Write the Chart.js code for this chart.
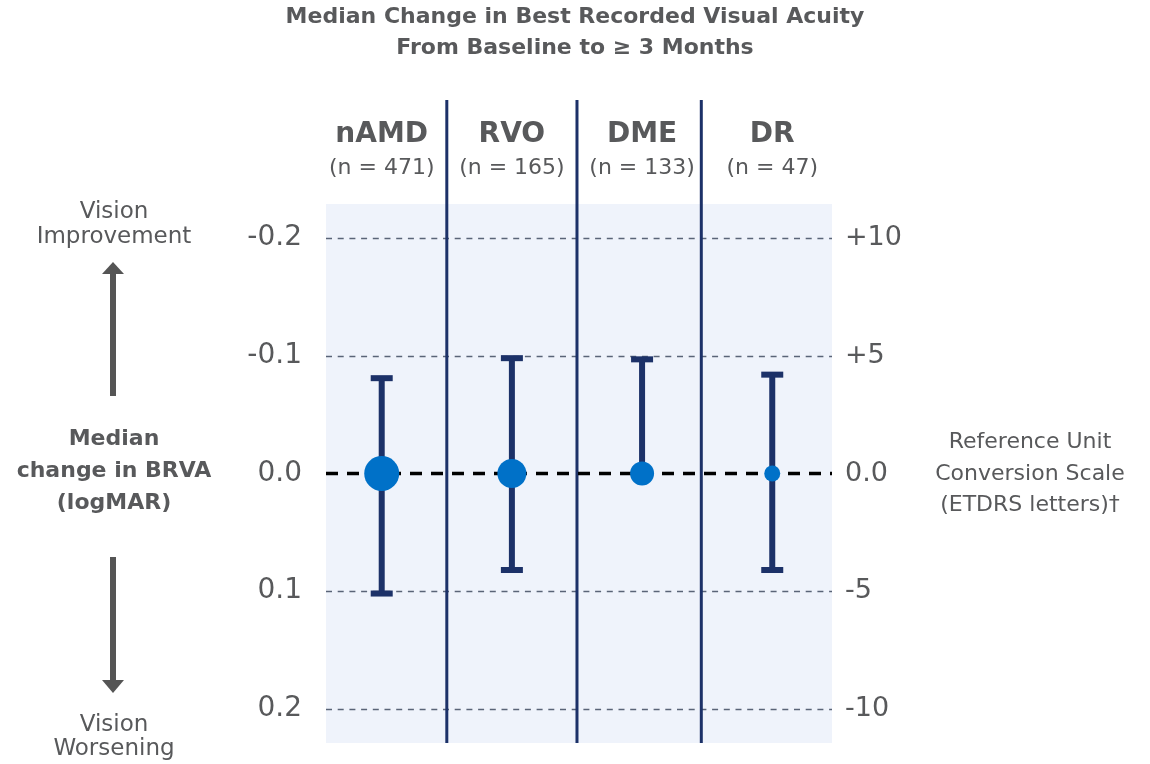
<!DOCTYPE html>
<html>
<head>
<meta charset="utf-8">
<script src="https://cdn.jsdelivr.net/npm/chart.js@4.4.1/dist/chart.umd.min.js"></script>
<style>
  html, body { margin: 0; padding: 0; background: #fff; }
</style>
</head>
<body>
<canvas id="chart" width="1150" height="764"></canvas>
<script>
// data
const categories = ["nAMD", "RVO", "DME", "DR"];
const sampleSizes = ["(n = 471)", "(n = 165)", "(n = 133)", "(n = 47)"];
const medians = [0, 0, 0, 0];
const upperBars = [-0.081, -0.098, -0.097, -0.084];
const lowerBars = [0.102, 0.082, 0, 0.082];
const logmarTicks = [-0.2, -0.1, 0, 0.1, 0.2];
const letterTicks = ["+10", "+5", "0.0", "-5", "-10"];

// styling
const pointSizes = [17.5, 14.5, 12, 8];
const FONT = "'DejaVu Sans', 'Open Sans', sans-serif";
const GREY = "#58595b";
const NAVY = "#1c3168";
const BLUE = "#0071c8";

const overlay = {
  id: "overlay",
  beforeDatasetsDraw(chart) {
    const { ctx, chartArea: a } = chart;
    const x = chart.scales.x, y = chart.scales.y;
    ctx.save();
    // panel
    ctx.fillStyle = "#eff3fb";
    ctx.fillRect(a.left, a.top, a.right - a.left, a.bottom - a.top);

    // dashed grid lines
    ctx.strokeStyle = "#5a6477";
    ctx.lineWidth = 1.6;
    ctx.setLineDash([6, 5.7]);
    logmarTicks.forEach(v => {
      if (v === 0) return;
      const py = Math.round(y.getPixelForValue(v)) + 0.5;
      ctx.beginPath();
      ctx.moveTo(a.left, py);
      ctx.lineTo(a.right, py);
      ctx.stroke();
    });
    ctx.setLineDash([]);

    // dividers between groups
    ctx.strokeStyle = NAVY;
    ctx.lineWidth = 3;
    [0.5, 1.5, 2.455].forEach(v => {
      const px = x.getPixelForValue(v);
      ctx.beginPath();
      ctx.moveTo(px, 100);
      ctx.lineTo(px, a.bottom);
      ctx.stroke();
    });

    // zero line
    const zy = y.getPixelForValue(0);
    ctx.strokeStyle = "#000";
    ctx.lineWidth = 3.5;
    ctx.setLineDash([12, 9]);
    ctx.beginPath();
    ctx.moveTo(a.left, zy);
    ctx.lineTo(a.right, zy);
    ctx.stroke();
    ctx.setLineDash([]);

    // error bars
    ctx.fillStyle = NAVY;
    categories.forEach((c, i) => {
      const px = x.getPixelForValue(i);
      const top = y.getPixelForValue(upperBars[i]);
      const bot = y.getPixelForValue(lowerBars[i]);
      ctx.fillRect(px - 3, top, 6, bot - top);
      if (upperBars[i] !== medians[i]) ctx.fillRect(px - 11, top - 3, 22, 6);
      if (lowerBars[i] !== medians[i]) ctx.fillRect(px - 11, bot - 3, 22, 6);
    });
    ctx.restore();
  },
  afterDraw(chart) {
    const { ctx } = chart;
    const x = chart.scales.x;
    ctx.save();
    ctx.fillStyle = GREY;
    ctx.textAlign = "center";
    ctx.textBaseline = "middle";

    // title
    ctx.font = "bold 22px " + FONT;
    ctx.fillText("Median Change in Best Recorded Visual Acuity", 575, 17);
    ctx.fillText("From Baseline to \u2265 3 Months", 575, 48);

    // group headers
    categories.forEach((c, i) => {
      const px = x.getPixelForValue(i);
      ctx.font = "bold 28px " + FONT;
      ctx.fillText(c, px, 135);
      ctx.font = "22px " + FONT;
      ctx.fillText(sampleSizes[i], px, 168);
    });

    // left side labels
    ctx.font = "23px " + FONT;
    ctx.fillText("Vision", 114, 212);
    ctx.fillText("Improvement", 114, 237);
    ctx.fillText("Vision", 114, 725);
    ctx.fillText("Worsening", 114, 749);
    ctx.font = "bold 22px " + FONT;
    ctx.fillText("Median", 114, 439);
    ctx.fillText("change in BRVA", 114, 471);
    ctx.fillText("(logMAR)", 114, 503);

    // arrows
    ctx.fillStyle = "#555";
    ctx.fillRect(110, 272, 6, 124);
    ctx.beginPath();
    ctx.moveTo(102, 274); ctx.lineTo(113, 262); ctx.lineTo(124, 274);
    ctx.closePath(); ctx.fill();
    ctx.fillRect(110, 557, 6, 125);
    ctx.beginPath();
    ctx.moveTo(102, 680); ctx.lineTo(113, 693); ctx.lineTo(124, 680);
    ctx.closePath(); ctx.fill();

    // right side label
    ctx.fillStyle = GREY;
    ctx.font = "22px " + FONT;
    ctx.fillText("Reference Unit", 1030, 442);
    ctx.fillText("Conversion Scale", 1030, 474);
    ctx.fillText("(ETDRS letters)\u2020", 1030, 505);
    ctx.restore();
  }
};

const axisBase = {
  type: "linear",
  reverse: true,
  min: -0.229,
  max: 0.229,
  grid: { display: false, drawTicks: false },
  border: { display: false },
  afterBuildTicks: s => { s.ticks = logmarTicks.map(v => ({ value: v })); }
};

new Chart(document.getElementById("chart"), {
  type: "scatter",
  data: {
    datasets: [{
      data: categories.map((c, i) => ({ x: i, y: medians[i] })),
      pointRadius: pointSizes,
      pointHoverRadius: pointSizes,
      backgroundColor: BLUE,
      borderWidth: 0
    }]
  },
  options: {
    responsive: false,
    animation: false,
    devicePixelRatio: 1,
    layout: { padding: { top: 204, bottom: 21, left: 0, right: 0 } },
    plugins: { legend: { display: false }, tooltip: { enabled: false } },
    scales: {
      x: { type: "linear", min: -0.428, max: 3.459, display: false },
      y: Object.assign({}, axisBase, {
        position: "left",
        afterFit: s => { s.width = 326; s.paddingTop = 0; s.paddingBottom = 0; },
        ticks: {
          callback: v => v.toFixed(1),
          font: { family: FONT, size: 28 },
          color: GREY,
          padding: 24
        }
      }),
      y2: Object.assign({}, axisBase, {
        position: "right",
        afterFit: s => { s.width = 318; s.paddingTop = 0; s.paddingBottom = 0; },
        ticks: {
          callback: (v, i) => letterTicks[i],
          font: { family: FONT, size: 27 },
          color: GREY,
          padding: 13
        }
      })
    }
  },
  plugins: [overlay]
});
</script>
</body>
</html>
